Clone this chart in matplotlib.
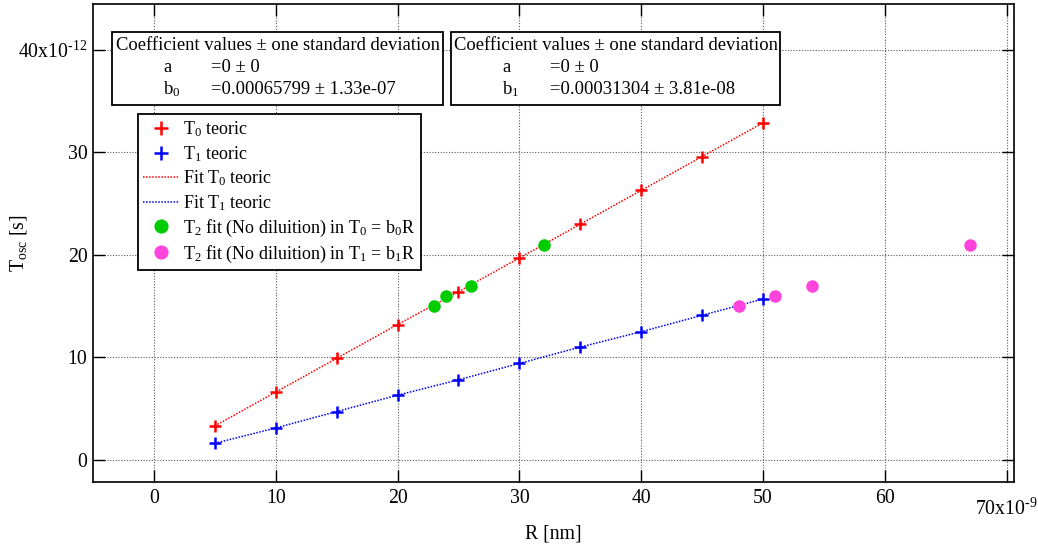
# T_osc vs R, theoretic values and fits

import matplotlib
matplotlib.use('Agg')
import matplotlib.pyplot as plt
from matplotlib.patches import Rectangle
from matplotlib.transforms import ScaledTranslation

plt.rcParams['font.family'] = 'Liberation Serif'
plt.rcParams['mathtext.default'] = 'regular'

# radii [nm] and periods [ps]
R = [5, 10, 15, 20, 25, 30, 35, 40, 45, 50]
T0 = [3.3, 6.6, 9.9, 13.2, 16.4, 19.7, 23.0, 26.3, 29.6, 32.9]
T1 = [1.6, 3.1, 4.7, 6.3, 7.8, 9.4, 11.0, 12.5, 14.1, 15.7]

R_T0 = [23, 24, 26, 32]
T2_T0 = [15, 16, 17, 21]
R_T1 = [48, 51, 54, 67]
T2_T1 = [15, 16, 17, 21]

xticks = [0, 10, 20, 30, 40, 50, 60, 70]
xtick_labels = ['0', '10', '20', '30', '40', '50', '60', '70x10$^{\u2010 9}$']
yticks = [0, 10, 20, 30, 40]
ytick_labels = ['0', '10', '20', '30', '40x10$^{\u2010 12}$']

coef_b0 = ['b$_0$', '=0.00065799 ± 1.33e-07']
coef_b1 = ['b$_1$', '=0.00031304 ± 3.81e-08']

W, H = 1038, 548
fig = plt.figure(figsize=(W / 100, H / 100), dpi=100)
ax = fig.add_axes([93 / W, 1 - 482 / H, (1014 - 93) / W, (482 - 4) / H])


def fx(px):
    return px / W


def fy(py):
    return 1 - py / H


red = '#ff0000'
blue = '#0000ff'
green = '#00cc00'
pink = '#ff44dd'

ax.plot(R, T0, ls='none', marker='+', ms=9, mew=1.8, color=red, label='T$_0$ teoric', zorder=4)
ax.plot(R, T1, ls='none', marker='+', ms=9, mew=1.8, color=blue, label='T$_1$ teoric', zorder=4)
ax.plot(R, T0, ls=(0, (1, 1)), lw=1.1, color=red, label='Fit T$_0$ teoric', zorder=3)
ax.plot(R, T1, ls=(0, (1, 1)), lw=1.1, color=blue, label='Fit T$_1$ teoric', zorder=3)
ax.plot(R_T0, T2_T0, ls='none', marker='o', ms=8, color=green, mec=green,
        label='T$_2$ fit (No diluition) in T$_0$ = b$_0$R', zorder=5)
ax.plot(R_T1, T2_T1, ls='none', marker='o', ms=8, color=pink, mec=pink,
        label='T$_2$ fit (No diluition) in T$_1$ = b$_1$R', zorder=5)

ax.set_xlim(-5, 70.6)
ax.set_ylim(-2.18, 44.5)
ax.set_xticks(xticks)
ax.set_xticklabels(xtick_labels)
ax.set_yticks(yticks)
ax.set_yticklabels(ytick_labels)
ax.tick_params(direction='in', length=8.5, width=1, labelsize=14.2,
               top=True, right=True, colors='black')
ax.tick_params(axis='x', pad=5)
ax.tick_params(axis='y', pad=4)
ax.grid(True, color='0.35', ls=(0, (1, 1.5)), lw=0.8)
for s in ax.spines.values():
    s.set_linewidth(1.2)

# the last x label sits lower in the original
lab = ax.get_xticklabels()[-1]
lab.set_transform(lab.get_transform() + ScaledTranslation(0, -10 / 100, fig.dpi_scale_trans))

ax.set_xlabel('R [nm]', fontsize=14.2)
ax.set_ylabel('T$_{osc}$ [s]', fontsize=14.2)
ax.xaxis.set_label_coords(0.5, -0.088)
ax.yaxis.set_label_coords(-0.069, 0.5)

leg = ax.legend(loc='upper left', bbox_to_anchor=(fx(138), fy(114)),
                bbox_transform=fig.transFigure, borderaxespad=0,
                fontsize=13.0, frameon=True, fancybox=False, framealpha=1,
                edgecolor='black', handlelength=1.95, handletextpad=0.25,
                labelspacing=0.27, borderpad=0.3, markerscale=1.15)
leg.get_frame().set_linewidth(1.3)


def coef_box(x0, x1, rows):
    fig.patches.append(Rectangle((fx(x0), fy(105)), fx(x1 - x0), (105 - 32) / H,
                                 transform=fig.transFigure, fill=True, fc='white',
                                 ec='black', lw=1.3, zorder=5))
    fig.text(fx((x0 + x1) / 2), fy(46), 'Coefficient values ± one standard deviation',
             ha='center', va='center', fontsize=13.4, zorder=6)
    fig.text(fx(x0 + 51), fy(68), 'a', ha='left', va='center', fontsize=13.4, zorder=6)
    fig.text(fx(x0 + 99), fy(68), '=0 ± 0', ha='left', va='center', fontsize=13.4, zorder=6)
    fig.text(fx(x0 + 51), fy(89), rows[0], ha='left', va='center', fontsize=13.4, zorder=6)
    fig.text(fx(x0 + 99), fy(89), rows[1], ha='left', va='center', fontsize=13.4, zorder=6)


coef_box(112, 443, coef_b0)
coef_box(451, 780, coef_b1)

fig.savefig('out.png', dpi=100)
